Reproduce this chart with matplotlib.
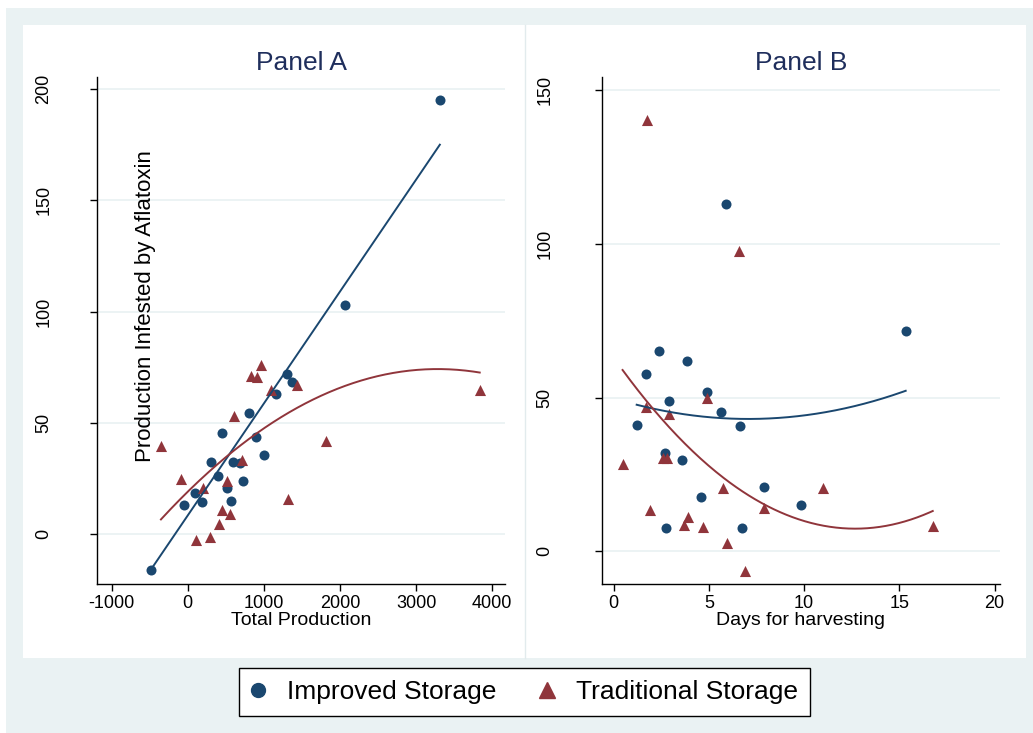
import numpy as np
import matplotlib.pyplot as plt
from matplotlib.patches import Rectangle
from matplotlib.lines import Line2D

plt.rcParams['font.family'] = ['Liberation Sans', 'DejaVu Sans']
plt.rcParams['axes.unicode_minus'] = False

# === data ===
# Panel A: Total Production vs Production Infested by Aflatoxin
a_imp_x = [-484, -52, 92, 183, 301, 393, 445, 510, 563, 589, 680, 720, 798, 890,
           995, 1152, 1309, 1374, 2068, 3311]
a_imp_y = [-15.8, 13, 18.5, 14.4, 32.4, 26, 45.5, 21, 15, 32.4, 32, 24, 54.5, 43.7,
           35.6, 63, 72, 68.5, 103, 195]
a_trad_x = [-353, -92, 196, 105, 288, 406, 445, 510, 550, 602, 707, 825, 903, 955,
            1099, 1322, 1440, 1819, 3835]
a_trad_y = [39.6, 24.8, 20.7, -2.7, -1.4, 4.5, 11, 23.9, 9, 53, 33.3, 71, 70.7, 76,
            65, 16, 67, 42, 65]

# Panel B: Days for harvesting vs Production Infested by Aflatoxin
b_imp_x = [15.33, 2.36, 3.83, 1.68, 4.88, 2.89, 5.62, 1.21, 6.61, 2.68, 3.57, 7.87,
           4.57, 9.82, 2.73, 6.72, 5.88]
b_imp_y = [71.6, 65, 61.8, 57.6, 51.7, 48.8, 45.2, 41, 40.7, 31.9, 29.6, 20.8,
           17.6, 15, 7.5, 7.5, 112.9]
b_trad_x = [1.73, 6.56, 0.47, 1.68, 2.89, 4.88, 2.6, 2.8, 1.89, 3.88, 3.67, 4.67,
            5.72, 7.87, 5.93, 6.88, 10.97, 16.75]
b_trad_y = [140.3, 97.6, 28.3, 46.8, 44.6, 49.8, 30.5, 30.5, 13.3, 11.1, 8.5, 7.8,
            20.5, 14, 2.6, -6.5, 20.5, 8.1]

# fitted curves as drawn in the picture (polynomial coefficients, highest power first)
a_imp_fit = [0.050277, 8.53]
a_trad_fit = [-5.111e-6, 0.033548, 19.18]
b_imp_fit = [0.1343, -1.900, 49.77]
b_trad_fit = [0.34609, -8.775, 63.01]

a_xticks = [-1000, 0, 1000, 2000, 3000, 4000]
a_yticks = [0, 50, 100, 150, 200]
b_xticks = [0, 5, 10, 15, 20]
b_yticks = [0, 50, 100, 150]

BLUE = '#1A476F'
RED = '#90353B'
BG = '#EAF2F3'
TITLE = '#1F2E5C'
W, H = 1033, 733


def fx(px):
    return px / W


def fy(py):
    return 1 - py / H


def fit_line(ax, x, coef, color):
    x = np.asarray(x, float)
    xs = np.linspace(x.min(), x.max(), 200)
    ax.plot(xs, np.polyval(coef, xs), color=color, lw=1.4, zorder=4)


def style(ax, xlim, ylim, xticks, yticks, xlabel, title, ypad):
    ax.set_facecolor('none')
    for s in ['top', 'right']:
        ax.spines[s].set_visible(False)
    for s in ['left', 'bottom']:
        ax.spines[s].set_linewidth(1)
        ax.spines[s].set_color('black')
    ax.set_xlim(*xlim)
    ax.set_ylim(*ylim)
    ax.set_xticks(xticks)
    ax.set_yticks(yticks)
    ax.yaxis.grid(True, color=BG, lw=1.3)
    ax.set_axisbelow(True)
    ax.tick_params(direction='out', length=5, width=1, labelsize=13, colors='black')
    ax.tick_params(axis='x', pad=3)
    ax.tick_params(axis='y', pad=ypad)
    for lbl in ax.get_yticklabels():
        lbl.set_rotation(90)
        lbl.set_va('center')
    ax.set_xlabel(xlabel, fontsize=14, labelpad=0)
    ax.set_title(title, fontsize=19, color=TITLE, pad=5)


fig = plt.figure(figsize=(W / 100, H / 100), dpi=100, facecolor='white')
fig.patches.append(Rectangle((fx(6), 0), 1 - fx(6), fy(8), transform=fig.transFigure,
                             facecolor=BG, edgecolor='none', zorder=-10))
fig.patches.append(Rectangle((fx(23), fy(658)), fx(1026) - fx(23), fy(25) - fy(658),
                             transform=fig.transFigure, facecolor='white',
                             edgecolor='none', zorder=-9))
fig.add_artist(Line2D([fx(525), fx(525)], [fy(658), fy(25)], color='#E2EBED', lw=1))

# === Panel A ===
axA = fig.add_axes([fx(97), fy(584), fx(505) - fx(97), fy(77) - fy(584)])
axA.scatter(a_imp_x, a_imp_y, s=52, color=BLUE, marker='o', lw=0, zorder=3)
axA.scatter(a_trad_x, a_trad_y, s=64, color=RED, marker='^', lw=0, zorder=3)
fit_line(axA, a_imp_x, a_imp_fit, BLUE)
fit_line(axA, a_trad_x, a_trad_fit, RED)
style(axA, (-1193, 4167), (-22.3, 205.4), a_xticks, a_yticks,
      'Total Production', 'Panel A', 27)
axA.text(0.118, 0.548, 'Production Infested by Aflatoxin', rotation=90,
         transform=axA.transAxes, ha='center', va='center', fontsize=16)

# === Panel B ===
axB = fig.add_axes([fx(602), fy(584), fx(1000) - fx(602), fy(77) - fy(584)])
axB.scatter(b_imp_x, b_imp_y, s=52, color=BLUE, marker='o', lw=0, zorder=3)
axB.scatter(b_trad_x, b_trad_y, s=64, color=RED, marker='^', lw=0, zorder=3)
fit_line(axB, b_imp_x, b_imp_fit, BLUE)
fit_line(axB, b_trad_x, b_trad_fit, RED)
style(axB, (-0.61, 20.28), (-10.6, 154.2), b_xticks, b_yticks,
      'Days for harvesting', 'Panel B', 30)

# === legend ===
handles = [Line2D([], [], marker='o', color=BLUE, ls='none', markersize=10),
           Line2D([], [], marker='^', color=RED, ls='none', markersize=11)]
leg = fig.legend(handles, ['Improved Storage', 'Traditional Storage'], loc='center',
                 bbox_to_anchor=(fx(524.5), fy(692)), ncol=2, fontsize=19,
                 frameon=True, fancybox=False, edgecolor='black', framealpha=1,
                 borderpad=0.45, handletextpad=0.85, columnspacing=1.68,
                 handlelength=0.5)
leg.get_frame().set_linewidth(1)

fig.savefig('out.png', dpi=100, facecolor=fig.get_facecolor())
